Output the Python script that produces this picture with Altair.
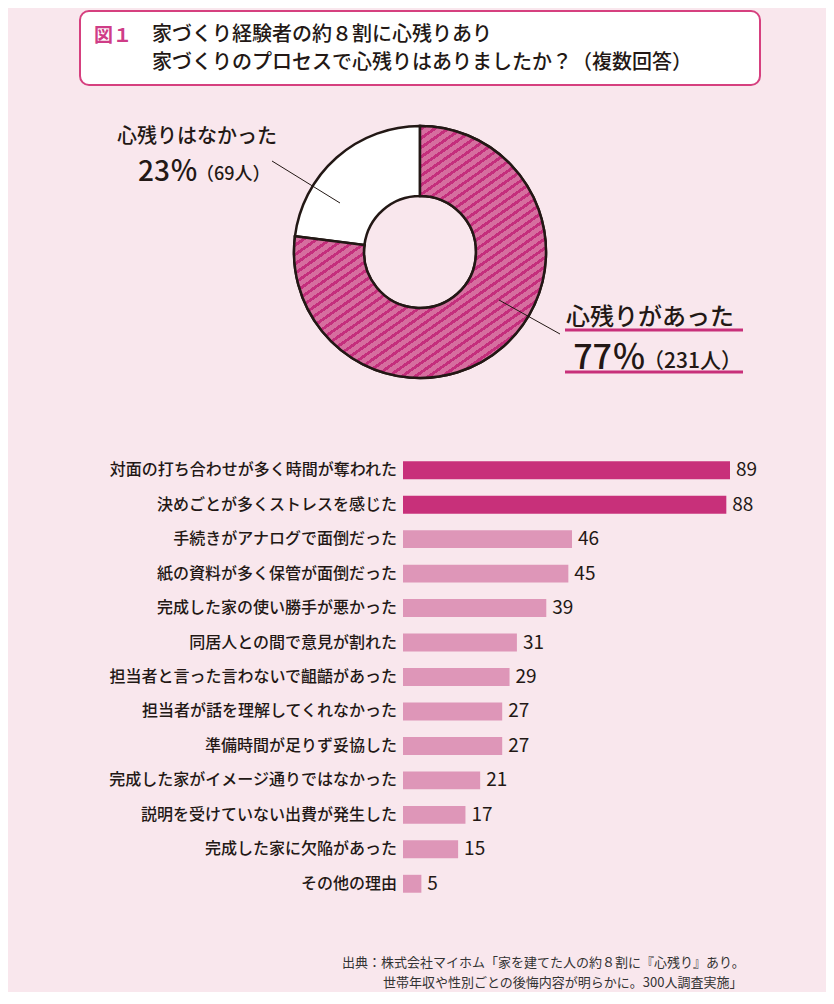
import altair as alt
import pandas as pd

# ---------------- data ----------------
title_tag = "図１"
title_line1 = "家づくり経験者の約８割に心残りあり"
title_line2 = "家づくりのプロセスで心残りはありましたか？（複数回答）"

donut_labels = ["心残りがあった", "心残りはなかった"]
donut_counts = [231, 69]
donut_pct = ["77％", "23％"]
donut_n = ["（231人）", "（69人）"]

categories = [
    "対面の打ち合わせが多く時間が奪われた",
    "決めごとが多くストレスを感じた",
    "手続きがアナログで面倒だった",
    "紙の資料が多く保管が面倒だった",
    "完成した家の使い勝手が悪かった",
    "同居人との間で意見が割れた",
    "担当者と言った言わないで齟齬があった",
    "担当者が話を理解してくれなかった",
    "準備時間が足りず妥協した",
    "完成した家がイメージ通りではなかった",
    "説明を受けていない出費が発生した",
    "完成した家に欠陥があった",
    "その他の理由",
]
counts = [89, 88, 46, 45, 39, 31, 29, 27, 27, 21, 17, 15, 5]

source_line1 = "出典：株式会社マイホム「家を建てた人の約８割に『心残り』あり。"
source_line2 = "世帯年収や性別ごとの後悔内容が明らかに。300人調査実施」"

# ---------------- styles ----------------
FONT = "Noto Sans CJK JP"
BG = "#f9e7ed"
INK = "#231815"
PINK_DARK = "#c8307a"
PINK_LIGHT = "#de96b8"
HATCH_BASE = "#d66e9f"
HATCH_LINE = "#c42e7c"
W = 818

# ---------------- title panel ----------------
one = pd.DataFrame({"k": [0]})
box = alt.Chart(one).mark_rect(
    fill="white", stroke="#d6407f", strokeWidth=2, cornerRadius=9
).encode(x=alt.value(72), x2=alt.value(752), y=alt.value(3), y2=alt.value(77))

tag = alt.Chart(pd.DataFrame({"t": [title_tag]})).mark_text(
    font=FONT, fontSize=19, fontWeight="bold", color="#cf3d87", align="left", baseline="middle"
).encode(x=alt.value(86), y=alt.value(28), text="t:N")

t1 = alt.Chart(pd.DataFrame({"t": [title_line1]})).mark_text(
    font=FONT, fontSize=20, fontWeight=500, color=INK, align="left", baseline="middle"
).encode(x=alt.value(144), y=alt.value(27), text="t:N")

t2 = alt.Chart(pd.DataFrame({"t": [title_line2]})).mark_text(
    font=FONT, fontSize=20, fontWeight=500, color=INK, align="left", baseline="middle"
).encode(x=alt.value(144), y=alt.value(55), text="t:N")

title_panel = alt.layer(box, tag, t1, t2).properties(width=W, height=87)

# ---------------- donut panel ----------------
donut_df = pd.DataFrame({
    "label": donut_labels, "count": donut_counts,
    "pct": donut_pct, "n": donut_n,
})

N = 46
stops = []
for i in range(N):
    a = i / N
    b = (i + 0.62) / N
    c = (i + 1) / N
    stops += [
        alt.GradientStop(offset=a, color=HATCH_BASE),
        alt.GradientStop(offset=b, color=HATCH_BASE),
        alt.GradientStop(offset=b, color=HATCH_LINE),
        alt.GradientStop(offset=c, color=HATCH_LINE),
    ]
hatch = alt.LinearGradient(
    gradient="linear", stops=stops, x1=0, y1=0, x2=0.574 * 1.4, y2=0.819 * 1.4
)

arc_base = alt.Chart(donut_df).encode(
    theta=alt.Theta("count:Q", stack=True),
    order=alt.Order("count:Q", sort="descending"),
    x=alt.value(412), y=alt.value(157),
)
arc_white = arc_base.mark_arc(
    radius=126, radius2=56, fill="white", stroke=INK, strokeWidth=2.5
)
arc_hatch = arc_base.mark_arc(
    radius=126, radius2=56, fill=hatch, stroke=INK, strokeWidth=2.5
).encode(
    opacity=alt.when(alt.datum.label == donut_labels[0]).then(alt.value(1)).otherwise(alt.value(0))
)

no_df = donut_df[donut_df.label == donut_labels[1]]
yes_df = donut_df[donut_df.label == donut_labels[0]]

no_label = alt.Chart(no_df).mark_text(
    font=FONT, fontSize=20, fontWeight=500, color=INK, align="left", baseline="alphabetic"
).encode(x=alt.value(109), y=alt.value(48), text="label:N")
no_pct = alt.Chart(no_df).mark_text(
    font=FONT, fontSize=28, fontWeight=500, color=INK, align="right", baseline="alphabetic"
).encode(x=alt.value(190), y=alt.value(86), text="pct:N")
no_n = alt.Chart(no_df).mark_text(
    font=FONT, fontSize=18, fontWeight=500, color=INK, align="left", baseline="alphabetic"
).encode(x=alt.value(188), y=alt.value(85), text="n:N")

yes_label = alt.Chart(yes_df).mark_text(
    font=FONT, fontSize=24, fontWeight=500, color=INK, align="left", baseline="alphabetic"
).encode(x=alt.value(558), y=alt.value(230), text="label:N")
yes_pct = alt.Chart(yes_df).mark_text(
    font=FONT, fontSize=34, fontWeight=500, color=INK, align="right", baseline="alphabetic"
).encode(x=alt.value(638), y=alt.value(274), text="pct:N")
yes_n = alt.Chart(yes_df).mark_text(
    font=FONT, fontSize=21, fontWeight=500, color=INK, align="left", baseline="alphabetic"
).encode(x=alt.value(635), y=alt.value(273), text="n:N")

lead1 = alt.Chart(one).mark_rule(color=INK, strokeWidth=1).encode(
    x=alt.value(264), y=alt.value(66), x2=alt.value(332), y2=alt.value(108))
lead2 = alt.Chart(one).mark_rule(color=INK, strokeWidth=1).encode(
    x=alt.value(491), y=alt.value(205), x2=alt.value(552), y2=alt.value(239))
ul1 = alt.Chart(one).mark_rule(color=PINK_DARK, strokeWidth=3).encode(
    x=alt.value(557), x2=alt.value(735), y=alt.value(235))
ul2 = alt.Chart(one).mark_rule(color=PINK_DARK, strokeWidth=3).encode(
    x=alt.value(557), x2=alt.value(735), y=alt.value(277))

donut_panel = alt.layer(
    arc_white, arc_hatch, lead1, lead2, ul1, ul2,
    no_label, no_pct, no_n, yes_label, yes_pct, yes_n,
).properties(width=W, height=325)

# ---------------- bar panel ----------------
bar_df = pd.DataFrame({"category": categories, "count": counts})

yenc = alt.Y(
    "category:N", sort=None, axis=None,
    scale=alt.Scale(range=[33, 481], paddingInner=0.48, paddingOuter=0.24),
)
xenc = alt.X("count:Q", axis=None, scale=alt.Scale(domain=[0, 89], range=[395, 722]))

bars = alt.Chart(bar_df).mark_bar().encode(
    x=xenc, y=yenc,
    color=alt.when(alt.datum.count > 60).then(alt.value(PINK_DARK)).otherwise(alt.value(PINK_LIGHT)),
)
vals = alt.Chart(bar_df).mark_text(
    font=FONT, fontSize=19, color=INK, align="left", baseline="middle", dx=6
).encode(x=xenc, y=yenc, text="count:Q")
cats = alt.Chart(bar_df).mark_text(
    font=FONT, fontSize=16, fontWeight=500, color=INK, align="right", baseline="middle"
).encode(x=alt.value(389), y=yenc, text="category:N")

src1 = alt.Chart(pd.DataFrame({"t": [source_line1]})).mark_text(
    font=FONT, fontSize=13, color="#333333", align="left", baseline="middle"
).encode(x=alt.value(334), y=alt.value(543), text="t:N")
src2 = alt.Chart(pd.DataFrame({"t": [source_line2]})).mark_text(
    font=FONT, fontSize=13, color="#333333", align="left", baseline="middle"
).encode(x=alt.value(375), y=alt.value(563), text="t:N")

bar_panel = alt.layer(bars, vals, cats, src1, src2).properties(width=W, height=572)

chart = alt.vconcat(title_panel, donut_panel, bar_panel, spacing=0).resolve_scale(
    x="independent", y="independent"
).configure(
    background=BG, padding=0
).configure_view(stroke=None)

chart.save("out.html", embed_options={"renderer": "svg", "actions": False})
